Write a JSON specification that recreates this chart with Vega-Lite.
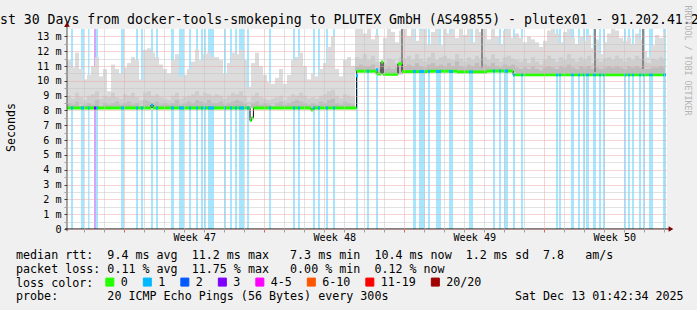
{
"$schema": "https://vega.github.io/schema/vega-lite/v6.json",
"width": 600, "height": 200,
"autosize": "none",
"padding": {"left": 67, "top": 29, "right": 30, "bottom": 81},
"background": "#f0f0f0",
"config": {"view": {"stroke": null, "fill": "white"}, "font": "DejaVu Sans Mono"},
"datasets": {
"bars": [
{"a":0.2,"b":0.3,"l":"1","m":8.17},{"a":0.7,"b":0.85,"l":"1","m":8.17},{"a":1.05,"b":1.125,"l":"1","m":8.17},{"a":1.35,"b":1.45,"l":"3","m":8.17},{"a":1.45,"b":1.55,"l":"1","m":8.17},
{"a":2.7,"b":2.85,"l":"1","m":8.17},{"a":3.45,"b":3.55,"l":"1","m":8.17},{"a":3.7,"b":3.8,"l":"1","m":8.17},{"a":4.2,"b":4.3,"l":"1","m":8.37},{"a":4.45,"b":4.55,"l":"1","m":8.17},
{"a":5.2,"b":5.35,"l":"1","m":8.17},{"a":5.6,"b":5.85,"l":"1","m":8.17},{"a":6.1,"b":6.2,"l":"1","m":8.17},{"a":6.45,"b":6.55,"l":"1","m":8.17},{"a":6.7,"b":6.8,"l":"1","m":8.17},
{"a":6.85,"b":6.95,"l":"1","m":8.17},{"a":7.05,"b":7.35,"l":"1","m":8.17},{"a":7.85,"b":7.95,"l":"1","m":8.17},{"a":8.15,"b":8.25,"l":"1","m":8.17},{"a":8.4,"b":8.5,"l":"1","m":8.17},
{"a":8.6,"b":8.85,"l":"1","m":8.17},{"a":9.0,"b":9.1,"l":"1","m":8.17},{"a":10.1,"b":10.2,"l":"1","m":8.17},{"a":11.3,"b":11.4,"l":"1","m":8.17},{"a":11.55,"b":11.65,"l":"1","m":8.17},
{"a":12.3,"b":12.4,"l":"1","m":8.17},{"a":12.55,"b":12.65,"l":"1","m":8.17},{"a":12.95,"b":13.05,"l":"1","m":8.17},{"a":13.3,"b":13.4,"l":"1","m":8.17},{"a":14.45,"b":14.55,"l":"1","m":10.35},
{"a":15.0,"b":15.1,"l":"1","m":10.65},{"a":15.45,"b":15.55,"l":"1","m":10.75},{"a":17.3,"b":17.45,"l":"1","m":10.63},{"a":17.6,"b":17.9,"l":"1","m":10.63},{"a":18.05,"b":18.15,"l":"1","m":10.63},
{"a":18.45,"b":18.7,"l":"1","m":10.63},{"a":19.1,"b":19.3,"l":"1","m":10.63},{"a":20.1,"b":20.3,"l":"1","m":10.6},{"a":21.3,"b":21.4,"l":"1","m":10.66},{"a":21.6,"b":21.7,"l":"1","m":10.66},
{"a":21.85,"b":22.05,"l":"1","m":10.66},{"a":22.3,"b":22.4,"l":"1","m":10.42},{"a":22.7,"b":22.8,"l":"1","m":10.42},{"a":24.45,"b":24.55,"l":"1","m":10.42},{"a":24.6,"b":24.7,"l":"1","m":10.42},
{"a":25.2,"b":25.35,"l":"1","m":10.42},{"a":25.55,"b":25.65,"l":"1","m":10.42},{"a":25.8,"b":25.9,"l":"1","m":10.42},{"a":25.95,"b":26.1,"l":"1","m":10.42},{"a":26.3,"b":26.45,"l":"1","m":10.42},
{"a":26.6,"b":26.7,"l":"1","m":10.42},{"a":26.8,"b":26.9,"l":"1","m":10.42},{"a":27.85,"b":27.95,"l":"1","m":10.42},{"a":28.05,"b":28.15,"l":"1","m":10.42},{"a":28.25,"b":28.35,"l":"1","m":10.42},
{"a":28.6,"b":28.7,"l":"1","m":10.42},{"a":28.8,"b":28.9,"l":"1","m":10.42},{"a":29.1,"b":29.3,"l":"1","m":10.42},{"a":29.8,"b":29.95,"l":"1","m":10.42}
],
"med": [
{"a":0,"b":4.2,"m":8.17,"l":"0"},{"a":4.2,"b":4.3,"m":8.37,"l":"0"},{"a":4.3,"b":9.15,"m":8.17,"l":"0"},{"a":9.15,"b":9.23,"m":7.32,"l":"0"},{"a":9.23,"b":9.32,"m":7.5,"l":"0"},
{"a":9.32,"b":12.2,"m":8.17,"l":"0"},{"a":12.2,"b":12.3,"m":8.03,"l":"0"},{"a":12.3,"b":14.48,"m":8.17,"l":"0"},{"a":14.48,"b":15.5,"m":10.65,"l":"0"},{"a":15.5,"b":15.7,"m":10.46,"l":"0"},
{"a":15.7,"b":15.8,"m":11.27,"l":"0"},{"a":15.8,"b":16.55,"m":10.44,"l":"0"},{"a":16.55,"b":16.75,"m":11.15,"l":"0"},{"a":16.75,"b":18.0,"m":10.62,"l":"0"},{"a":18.0,"b":19.5,"m":10.65,"l":"0"},
{"a":19.5,"b":21.0,"m":10.6,"l":"0"},{"a":21.0,"b":22.3,"m":10.66,"l":"0"},{"a":22.3,"b":29.9,"m":10.42,"l":"0"}
],
"spk": [
{"a":16.7,"b":16.8,"lo":11.0,"h":13.5},{"a":20.7,"b":20.8,"lo":10.9,"h":13.5},{"a":26.35,"b":26.45,"lo":10.6,"h":13.5},{"a":28.75,"b":28.85,"lo":10.8,"h":13.5}
],
"smoke": [
{"a":0,"b":0.2,"lo":8.17,"h":11.4,"k":9.0,"j":8.5},{"a":0.2,"b":0.4,"lo":8.17,"h":10.9,"k":8.8,"j":8.4},{"a":0.4,"b":0.6,"lo":8.17,"h":11.9,"k":9.2,"j":8.6},{"a":0.6,"b":0.8,"lo":8.17,"h":10.8,"k":8.9,"j":8.3},{"a":0.8,"b":1,"lo":8.17,"h":10.1,"k":8.7,"j":8.4},
{"a":1,"b":1.2,"lo":8.17,"h":10.4,"k":9.0,"j":8.5},{"a":1.2,"b":1.4,"lo":8.17,"h":11.0,"k":9.1,"j":8.4},{"a":1.4,"b":1.6,"lo":8.17,"h":11.6,"k":9.3,"j":8.7},{"a":1.6,"b":1.8,"lo":8.17,"h":10.3,"k":8.8,"j":8.3},{"a":1.8,"b":2,"lo":8.17,"h":10.8,"k":9.0,"j":8.5},
{"a":2,"b":2.2,"lo":8.17,"h":9.3,"k":8.9,"j":8.4},{"a":2.2,"b":2.4,"lo":8.17,"h":11.1,"k":9.2,"j":8.5},{"a":2.4,"b":2.6,"lo":8.17,"h":10.8,"k":8.9,"j":8.6},{"a":2.6,"b":2.8,"lo":8.17,"h":10.5,"k":8.8,"j":8.4},{"a":2.8,"b":3,"lo":8.17,"h":10.9,"k":9.1,"j":8.5},
{"a":3,"b":3.2,"lo":8.17,"h":11.2,"k":9.0,"j":8.6},{"a":3.2,"b":3.4,"lo":8.17,"h":11.6,"k":9.2,"j":8.4},{"a":3.4,"b":3.6,"lo":8.17,"h":11.4,"k":8.9,"j":8.5},{"a":3.6,"b":3.8,"lo":8.17,"h":10.1,"k":8.7,"j":8.3},{"a":3.8,"b":4,"lo":8.17,"h":12.1,"k":9.2,"j":8.7},
{"a":4,"b":4.2,"lo":8.17,"h":12.2,"k":9.3,"j":8.6},{"a":4.2,"b":4.4,"lo":8.17,"h":11.9,"k":9.0,"j":8.5},{"a":4.4,"b":4.6,"lo":8.17,"h":11.6,"k":9.1,"j":8.6},{"a":4.6,"b":4.8,"lo":8.17,"h":11.1,"k":8.9,"j":8.4},{"a":4.8,"b":5,"lo":8.17,"h":10.8,"k":8.8,"j":8.5},
{"a":5,"b":5.2,"lo":8.17,"h":10.5,"k":8.7,"j":8.4},{"a":5.2,"b":5.4,"lo":8.17,"h":11.4,"k":9.0,"j":8.5},{"a":5.4,"b":5.6,"lo":8.17,"h":11.8,"k":9.2,"j":8.7},{"a":5.6,"b":5.8,"lo":8.17,"h":10.3,"k":8.8,"j":8.4},{"a":5.8,"b":6,"lo":8.17,"h":10.4,"k":8.9,"j":8.5},
{"a":6,"b":6.2,"lo":8.17,"h":10.8,"k":9.0,"j":8.6},{"a":6.2,"b":6.4,"lo":8.17,"h":11.3,"k":9.1,"j":8.5},{"a":6.4,"b":6.6,"lo":8.17,"h":12.1,"k":9.3,"j":8.7},{"a":6.6,"b":6.8,"lo":8.17,"h":11.4,"k":9.0,"j":8.6},{"a":6.8,"b":7,"lo":8.17,"h":11.8,"k":9.2,"j":8.5},
{"a":7,"b":7.2,"lo":8.17,"h":11.9,"k":9.1,"j":8.7},{"a":7.2,"b":7.4,"lo":8.17,"h":11.6,"k":9.0,"j":8.5},{"a":7.4,"b":7.6,"lo":8.17,"h":11.6,"k":9.1,"j":8.5},{"a":7.6,"b":7.8,"lo":8.17,"h":11.4,"k":9.0,"j":8.6},{"a":7.8,"b":8,"lo":8.17,"h":10.5,"k":8.8,"j":8.4},
{"a":8,"b":8.2,"lo":8.17,"h":11.2,"k":9.0,"j":8.5},{"a":8.2,"b":8.4,"lo":8.17,"h":11.9,"k":9.2,"j":8.6},{"a":8.4,"b":8.6,"lo":8.17,"h":11.8,"k":9.1,"j":8.7},{"a":8.6,"b":8.8,"lo":8.17,"h":12.1,"k":9.3,"j":8.6},{"a":8.8,"b":9,"lo":8.17,"h":11.4,"k":9.0,"j":8.5},
{"a":9,"b":9.2,"lo":8.17,"h":9.6,"k":8.6,"j":8.3},{"a":9.2,"b":9.4,"lo":8.17,"h":11.2,"k":9.0,"j":8.5},{"a":9.4,"b":9.6,"lo":8.17,"h":11.9,"k":9.2,"j":8.6},{"a":9.6,"b":9.8,"lo":8.17,"h":11.0,"k":8.9,"j":8.4},{"a":9.8,"b":10,"lo":8.17,"h":10.4,"k":8.8,"j":8.5},
{"a":10,"b":10.2,"lo":8.17,"h":9.9,"k":8.7,"j":8.4},{"a":10.2,"b":10.4,"lo":8.17,"h":9.8,"k":8.8,"j":8.3},{"a":10.4,"b":10.6,"lo":8.17,"h":10.2,"k":8.9,"j":8.5},{"a":10.6,"b":10.8,"lo":8.17,"h":10.8,"k":9.0,"j":8.6},{"a":10.8,"b":11,"lo":8.17,"h":9.8,"k":8.7,"j":8.4},
{"a":11,"b":11.2,"lo":8.17,"h":10.4,"k":8.9,"j":8.5},{"a":11.2,"b":11.4,"lo":8.17,"h":11.4,"k":9.1,"j":8.6},{"a":11.4,"b":11.6,"lo":8.17,"h":11.6,"k":9.0,"j":8.7},{"a":11.6,"b":11.8,"lo":8.17,"h":11.9,"k":9.2,"j":8.6},{"a":11.8,"b":12,"lo":8.17,"h":11.0,"k":9.0,"j":8.5},
{"a":12,"b":12.2,"lo":8.17,"h":10.1,"k":8.8,"j":8.4},{"a":12.2,"b":12.4,"lo":8.17,"h":10.5,"k":8.9,"j":8.5},{"a":12.4,"b":12.6,"lo":8.17,"h":10.3,"k":8.8,"j":8.4},{"a":12.6,"b":12.8,"lo":8.17,"h":10.8,"k":9.0,"j":8.6},{"a":12.8,"b":13,"lo":8.17,"h":11.2,"k":9.1,"j":8.5},
{"a":13,"b":13.2,"lo":8.17,"h":12.3,"k":9.3,"j":8.7},{"a":13.2,"b":13.4,"lo":8.17,"h":13.0,"k":9.4,"j":8.8},{"a":13.4,"b":13.6,"lo":8.17,"h":10.8,"k":9.0,"j":8.5},{"a":13.6,"b":13.8,"lo":8.17,"h":10.3,"k":8.8,"j":8.4},{"a":13.8,"b":14,"lo":8.17,"h":11.4,"k":9.1,"j":8.6},
{"a":14,"b":14.2,"lo":8.17,"h":11.6,"k":9.0,"j":8.5},{"a":14.2,"b":14.4,"lo":8.17,"h":11.0,"k":8.9,"j":8.4},
{"a":14.4,"b":14.6,"lo":10.65,"h":13.5,"k":11.6,"j":11.0},{"a":14.6,"b":14.8,"lo":10.65,"h":13.5,"k":11.5,"j":11.1},{"a":14.8,"b":15,"lo":10.65,"h":13.2,"k":11.8,"j":11.0},
{"a":15,"b":15.2,"lo":10.65,"h":13.5,"k":11.4,"j":11.0},{"a":15.2,"b":15.4,"lo":10.65,"h":12.8,"k":11.7,"j":11.1},{"a":15.4,"b":15.6,"lo":10.45,"h":13.1,"k":11.3,"j":10.8},{"a":15.6,"b":15.8,"lo":10.45,"h":11.3,"k":11.0,"j":10.8},{"a":15.8,"b":16,"lo":10.45,"h":12.9,"k":11.2,"j":10.8},
{"a":16,"b":16.2,"lo":10.45,"h":13.5,"k":11.5,"j":10.9},{"a":16.2,"b":16.4,"lo":10.45,"h":13.3,"k":11.4,"j":10.8},{"a":16.4,"b":16.6,"lo":10.45,"h":12.6,"k":11.2,"j":10.9},{"a":16.6,"b":16.8,"lo":10.45,"h":13.4,"k":11.6,"j":11.0},{"a":16.8,"b":17,"lo":10.63,"h":13.5,"k":11.5,"j":11.0},
{"a":17,"b":17.2,"lo":10.63,"h":13.0,"k":11.7,"j":11.1},{"a":17.2,"b":17.4,"lo":10.63,"h":13.5,"k":11.4,"j":11.0},{"a":17.4,"b":17.6,"lo":10.63,"h":12.7,"k":11.8,"j":11.2},{"a":17.6,"b":17.8,"lo":10.63,"h":13.4,"k":11.5,"j":11.0},{"a":17.8,"b":18,"lo":10.63,"h":13.5,"k":11.3,"j":10.9},
{"a":18,"b":18.2,"lo":10.63,"h":12.5,"k":11.6,"j":11.1},{"a":18.2,"b":18.4,"lo":10.63,"h":13.3,"k":11.9,"j":11.2},{"a":18.4,"b":18.6,"lo":10.63,"h":13.5,"k":11.4,"j":11.0},{"a":18.6,"b":18.8,"lo":10.63,"h":12.4,"k":11.6,"j":11.1},{"a":18.8,"b":19,"lo":10.63,"h":13.5,"k":11.7,"j":11.0},
{"a":19,"b":19.2,"lo":10.63,"h":13.2,"k":11.5,"j":11.2},{"a":19.2,"b":19.4,"lo":10.63,"h":13.5,"k":11.4,"j":11.0},{"a":19.4,"b":19.6,"lo":10.63,"h":12.9,"k":11.8,"j":11.3},{"a":19.6,"b":19.8,"lo":10.6,"h":13.5,"k":11.5,"j":11.0},{"a":19.8,"b":20,"lo":10.6,"h":13.1,"k":11.3,"j":10.9},
{"a":20,"b":20.2,"lo":10.6,"h":13.5,"k":11.6,"j":11.1},{"a":20.2,"b":20.4,"lo":10.6,"h":12.6,"k":11.4,"j":11.0},{"a":20.4,"b":20.6,"lo":10.6,"h":13.5,"k":11.7,"j":11.2},{"a":20.6,"b":20.8,"lo":10.6,"h":13.3,"k":11.5,"j":11.0},{"a":20.8,"b":21,"lo":10.6,"h":13.5,"k":11.6,"j":11.1},
{"a":21,"b":21.2,"lo":10.66,"h":12.8,"k":11.4,"j":11.0},{"a":21.2,"b":21.4,"lo":10.66,"h":13.5,"k":11.8,"j":11.2},{"a":21.4,"b":21.6,"lo":10.66,"h":13.0,"k":11.5,"j":11.0},{"a":21.6,"b":21.8,"lo":10.66,"h":12.5,"k":11.3,"j":10.9},{"a":21.8,"b":22,"lo":10.66,"h":13.4,"k":11.6,"j":11.1},
{"a":22,"b":22.2,"lo":10.66,"h":13.5,"k":11.7,"j":11.0},{"a":22.2,"b":22.4,"lo":10.6,"h":12.9,"k":11.5,"j":11.1},{"a":22.4,"b":22.6,"lo":10.42,"h":13.2,"k":11.4,"j":10.9},{"a":22.6,"b":22.8,"lo":10.42,"h":12.9,"k":11.3,"j":10.8},{"a":22.8,"b":23,"lo":10.42,"h":12.6,"k":11.5,"j":10.9},
{"a":23,"b":23.2,"lo":10.42,"h":13.0,"k":11.2,"j":10.8},{"a":23.2,"b":23.4,"lo":10.42,"h":12.8,"k":11.6,"j":11.0},{"a":23.4,"b":23.6,"lo":10.42,"h":12.6,"k":11.3,"j":10.8},{"a":23.6,"b":23.8,"lo":10.42,"h":12.3,"k":11.1,"j":10.7},{"a":23.8,"b":24,"lo":10.42,"h":12.7,"k":11.4,"j":10.9},
{"a":24,"b":24.2,"lo":10.42,"h":13.4,"k":11.7,"j":11.0},{"a":24.2,"b":24.4,"lo":10.42,"h":13.5,"k":11.5,"j":10.9},{"a":24.4,"b":24.6,"lo":10.42,"h":13.2,"k":11.3,"j":10.8},{"a":24.6,"b":24.8,"lo":10.42,"h":12.6,"k":11.6,"j":11.0},{"a":24.8,"b":25,"lo":10.42,"h":13.3,"k":11.4,"j":10.9},
{"a":25,"b":25.2,"lo":10.42,"h":13.5,"k":11.8,"j":11.1},{"a":25.2,"b":25.4,"lo":10.42,"h":12.9,"k":11.5,"j":10.9},{"a":25.4,"b":25.6,"lo":10.42,"h":12.5,"k":11.3,"j":10.8},{"a":25.6,"b":25.8,"lo":10.42,"h":13.0,"k":11.6,"j":11.0},{"a":25.8,"b":26,"lo":10.42,"h":12.7,"k":11.4,"j":10.9},
{"a":26,"b":26.2,"lo":10.42,"h":13.1,"k":11.7,"j":11.0},{"a":26.2,"b":26.4,"lo":10.42,"h":12.2,"k":11.2,"j":10.8},{"a":26.4,"b":26.6,"lo":10.42,"h":12.8,"k":11.5,"j":10.9},{"a":26.6,"b":26.8,"lo":10.42,"h":11.8,"k":11.3,"j":10.8},{"a":26.8,"b":27,"lo":10.42,"h":12.6,"k":11.5,"j":10.9},
{"a":27,"b":27.2,"lo":10.42,"h":13.2,"k":11.6,"j":11.0},{"a":27.2,"b":27.4,"lo":10.42,"h":13.5,"k":11.4,"j":10.9},{"a":27.4,"b":27.6,"lo":10.42,"h":13.4,"k":11.7,"j":11.0},{"a":27.6,"b":27.8,"lo":10.42,"h":12.9,"k":11.5,"j":10.9},{"a":27.8,"b":28,"lo":10.42,"h":12.7,"k":11.3,"j":10.8},
{"a":28,"b":28.2,"lo":10.42,"h":12.9,"k":11.6,"j":11.0},{"a":28.2,"b":28.4,"lo":10.42,"h":12.5,"k":11.4,"j":10.9},{"a":28.4,"b":28.6,"lo":10.42,"h":13.2,"k":11.7,"j":11.0},{"a":28.6,"b":28.8,"lo":10.42,"h":12.8,"k":11.5,"j":10.9},{"a":28.8,"b":29,"lo":10.42,"h":12.0,"k":11.3,"j":10.8},
{"a":29,"b":29.2,"lo":10.42,"h":11.6,"k":11.2,"j":10.8},{"a":29.2,"b":29.4,"lo":10.42,"h":12.4,"k":11.5,"j":10.9},{"a":29.4,"b":29.6,"lo":10.42,"h":13.1,"k":11.4,"j":10.9},{"a":29.6,"b":29.8,"lo":10.42,"h":12.9,"k":11.6,"j":11.0},{"a":29.8,"b":29.9,"lo":10.42,"h":13.3,"k":11.5,"j":10.9}
]
},
"layer": [
{"data": {"name": "bars"}, "mark": {"type": "rect", "opacity": 0.35},
 "encoding": {
  "x": {"field": "a", "type": "quantitative", "scale": {"domain": [0, 30], "nice": false, "zero": false}, "axis": null},
  "x2": {"field": "b"},
  "y": {"datum": 0, "type": "quantitative", "scale": {"domain": [0, 13.5], "nice": false},
        "axis": {"orient": "right", "domain": false, "ticks": false, "labels": false, "grid": false, "title": "RRDTOOL / TOBI OETIKER", "titleAngle": 90, "titleAlign": "left", "titleBaseline": "middle", "titleX": 19.5, "titleY": -24, "titleFont": "DejaVu Sans Mono", "titleFontSize": 8.3, "titleFontWeight": "normal", "titleColor": "#b4b4b4"}},
  "y2": {"datum": 13.5},
  "color": {"field": "l", "type": "nominal",
    "scale": {"domain": ["0","1","2","3","4-5","6-10","11-19","20/20"], "range": ["#26ff00","#00b8ff","#0059ff","#7e00ff","#ff00ff","#ff5500","#ff0000","#a10000"]},
    "legend": {"orient": "none", "legendX": 37, "legendY": 247, "direction": "horizontal", "title": null, "padding": 0, "symbolType": "square", "symbolSize": 64, "symbolStrokeColor": "black", "symbolStrokeWidth": 1, "symbolOpacity": 1, "labelFont": "DejaVu Sans Mono", "labelFontSize": 11.68, "labelColor": "black", "labelOffset": 5, "columnPadding": 12.5}}
 }},
{"data": {"name": "smoke"}, "mark": {"type": "rect", "color": "#dcdcdc"},
 "encoding": {
  "x": {"field": "a", "type": "quantitative", "scale": {"domain": [0, 30], "nice": false, "zero": false},
    "axis": {"values": [0.867,1.867,2.867,3.867,4.867,5.867,6.867,7.867,8.867,9.867,10.867,11.867,12.867,13.867,14.867,15.867,16.867,17.867,18.867,19.867,20.867,21.867,22.867,23.867,24.867,25.867,26.867,27.867,28.867,29.867,6.367,13.367,20.367,27.367],
      "domain": false, "grid": true, "gridDash": [1, 1],
      "gridColor": {"condition": {"test": "abs((datum.value-2.867)/7 - round((datum.value-2.867)/7)) < 0.001", "value": "#eaa8a8"}, "value": "#c4c4c4"},
      "gridOpacity": {"condition": {"test": "abs(datum.value - floor(datum.value) - 0.367) < 0.001", "value": 0}, "value": 1},
      "ticks": true, "tickSize": 3,
      "tickColor": {"condition": {"test": "abs((datum.value-2.867)/7 - round((datum.value-2.867)/7)) < 0.001", "value": "#e06060"}, "value": "#a0a0a0"},
      "tickOpacity": {"condition": {"test": "abs(datum.value - floor(datum.value) - 0.367) < 0.001", "value": 0}, "value": 1},
      "labelExpr": "abs(datum.value - floor(datum.value) - 0.367) < 0.001 ? 'Week ' + (47 + round((datum.value - 6.367)/7)) : ''",
      "labelFont": "DejaVu Sans Mono", "labelFontSize": 10.15, "labelColor": "black", "labelBaseline": "alphabetic", "labelPadding": 8.5, "labelFlush": false, "labelOverlap": false, "labelBound": false,
      "title": ["median rtt:\u00a0\u00a09.4 ms avg\u00a0\u00a011.2 ms max\u00a0\u00a0\u00a07.3 ms min\u00a0\u00a010.4 ms now\u00a0\u00a01.2 ms sd\u00a0\u00a07.8\u00a0\u00a0\u00a0am/s", "packet loss: 0.11 % avg\u00a0\u00a011.75 % max\u00a0\u00a0\u00a00.00 % min\u00a0\u00a00.12 % now", "loss color:", "probe:\u00a0\u00a0\u00a0\u00a0\u00a0\u00a0\u00a020 ICMP Echo Pings (56 Bytes) every 300s\u00a0\u00a0\u00a0\u00a0\u00a0\u00a0\u00a0\u00a0\u00a0\u00a0\u00a0\u00a0\u00a0\u00a0\u00a0\u00a0\u00a0\u00a0Sat Dec 13 01:42:34 2025"],
      "titleAnchor": "start", "titleAlign": "left", "titleBaseline": "alphabetic", "titleX": -51.5, "titleY": 29.3, "titleFont": "DejaVu Sans Mono", "titleFontSize": 11.68, "titleFontWeight": "normal", "titleColor": "black", "titleLineHeight": 13.9,
      "zindex": 1}},
  "x2": {"field": "b"},
  "y": {"field": "lo", "type": "quantitative", "scale": {"domain": [0, 13.5], "nice": false},
    "axis": {"values": [0,0.5,1,1.5,2,2.5,3,3.5,4,4.5,5,5.5,6,6.5,7,7.5,8,8.5,9,9.5,10,10.5,11,11.5,12,12.5,13],
      "domain": false, "grid": true, "gridDash": [1, 1],
      "gridColor": {"condition": {"test": "datum.value % 1 == 0", "value": "#eaa8a8"}, "value": "#c4c4c4"},
      "ticks": true, "tickSize": 3,
      "tickColor": {"condition": {"test": "datum.value % 1 == 0", "value": "#404040"}, "value": "#a0a0a0"},
      "labelExpr": "datum.value % 1 != 0 ? '' : (datum.value == 0 ? '0\u00a0\u00a0' : datum.value + ' m')",
      "labelFont": "DejaVu Sans Mono", "labelFontSize": 10.15, "labelColor": "black", "labelPadding": 3, "labelBaseline": "middle", "labelFlush": false, "labelOverlap": false, "labelBound": false,
      "title": "Seconds", "titleAngle": 270, "titleX": -56, "titleY": 98, "titleAlign": "center", "titleBaseline": "middle", "titleFont": "DejaVu Sans Mono", "titleFontSize": 11.6, "titleFontWeight": "normal", "titleColor": "black",
      "zindex": 1}},
  "y2": {"field": "h"}
 }},
{"data": {"name": "smoke"}, "mark": {"type": "rect", "color": "#cecece"},
 "encoding": {
  "x": {"field": "a", "type": "quantitative", "scale": {"domain": [0, 30], "nice": false, "zero": false},
    "axis": {"orient": "top", "domain": false, "ticks": false, "labels": false, "grid": false,
      "title": "Last 30 Days from docker-tools-smokeping to PLUTEX GmbH (AS49855) - plutex01 - 91.202.41.20",
      "titleAnchor": "start", "titleAlign": "left", "titleBaseline": "alphabetic", "titleX": -83.4, "titleY": -5.7, "titleFont": "DejaVu Sans Mono", "titleFontSize": 13.2, "titleFontWeight": "normal", "titleColor": "black", "titleLimit": 0}},
  "x2": {"field": "b"},
  "y": {"field": "lo", "type": "quantitative", "scale": {"domain": [0, 13.5], "nice": false}, "axis": null},
  "y2": {"field": "k"}
 }},
{"data": {"name": "smoke"}, "mark": {"type": "rect", "color": "#bdbdbd"},
 "encoding": {
  "x": {"field": "a", "type": "quantitative", "scale": {"domain": [0, 30], "nice": false, "zero": false}, "axis": null},
  "x2": {"field": "b"},
  "y": {"field": "lo", "type": "quantitative", "scale": {"domain": [0, 13.5], "nice": false}, "axis": null},
  "y2": {"field": "j"}
 }},
{"data": {"name": "spk"}, "mark": {"type": "rect", "color": "#8a8a8a"},
 "encoding": {
  "x": {"field": "a", "type": "quantitative", "scale": {"domain": [0, 30], "nice": false, "zero": false}, "axis": null},
  "x2": {"field": "b"},
  "y": {"field": "lo", "type": "quantitative", "scale": {"domain": [0, 13.5], "nice": false}, "axis": null},
  "y2": {"field": "h"}
 }},
{"data": {"name": "med"}, "mark": {"type": "line", "interpolate": "step-after", "color": "black", "strokeWidth": 1},
 "encoding": {
  "x": {"field": "a", "type": "quantitative", "scale": {"domain": [0, 30], "nice": false, "zero": false}, "axis": null},
  "y": {"field": "m", "type": "quantitative", "scale": {"domain": [0, 13.5], "nice": false}, "axis": null}
 }},
{"data": {"name": "med"}, "mark": {"type": "rule", "strokeWidth": 3},
 "encoding": {
  "x": {"field": "a", "type": "quantitative", "scale": {"domain": [0, 30], "nice": false, "zero": false}, "axis": null},
  "x2": {"field": "b"},
  "y": {"field": "m", "type": "quantitative", "scale": {"domain": [0, 13.5], "nice": false}, "axis": null},
  "color": {"field": "l", "type": "nominal", "legend": null}
 }},
{"data": {"name": "bars"}, "mark": {"type": "rule", "strokeWidth": 3},
 "encoding": {
  "x": {"field": "a", "type": "quantitative", "scale": {"domain": [0, 30], "nice": false, "zero": false}, "axis": null},
  "x2": {"field": "b"},
  "y": {"field": "m", "type": "quantitative", "scale": {"domain": [0, 13.5], "nice": false}, "axis": null},
  "color": {"field": "l", "type": "nominal", "legend": null}
 }},
{"data": {"values": [{}]}, "mark": {"type": "rule", "color": "#505050", "strokeWidth": 1},
 "encoding": {
  "x": {"datum": 0, "type": "quantitative", "scale": {"domain": [0, 30], "nice": false, "zero": false}, "axis": null},
  "y": {"datum": -0.15, "type": "quantitative", "scale": {"domain": [0, 13.5], "nice": false}, "axis": null},
  "y2": {"datum": 13.75}
 }},
{"data": {"values": [{}]}, "mark": {"type": "rule", "color": "black", "strokeWidth": 1},
 "encoding": {
  "x": {"datum": -0.1, "type": "quantitative", "scale": {"domain": [0, 30], "nice": false, "zero": false}, "axis": null},
  "x2": {"datum": 30.15},
  "y": {"datum": 0, "type": "quantitative", "scale": {"domain": [0, 13.5], "nice": false}, "axis": null}
 }},
{"data": {"values": [{}]}, "mark": {"type": "point", "shape": "triangle-up", "filled": true, "color": "#7f0000", "size": 30, "opacity": 1},
 "encoding": {
  "x": {"datum": 0, "type": "quantitative", "scale": {"domain": [0, 30], "nice": false, "zero": false}, "axis": null},
  "y": {"datum": 13.82, "type": "quantitative", "scale": {"domain": [0, 13.5], "nice": false}, "axis": null}
 }},
{"data": {"values": [{}]}, "mark": {"type": "point", "shape": "triangle-right", "filled": true, "color": "#7f0000", "size": 30, "opacity": 1},
 "encoding": {
  "x": {"datum": 30.2, "type": "quantitative", "scale": {"domain": [0, 30], "nice": false, "zero": false}, "axis": null},
  "y": {"datum": 0, "type": "quantitative", "scale": {"domain": [0, 13.5], "nice": false}, "axis": null}
 }}
],
"resolve": {"axis": {"x": "independent", "y": "independent"}}
}
